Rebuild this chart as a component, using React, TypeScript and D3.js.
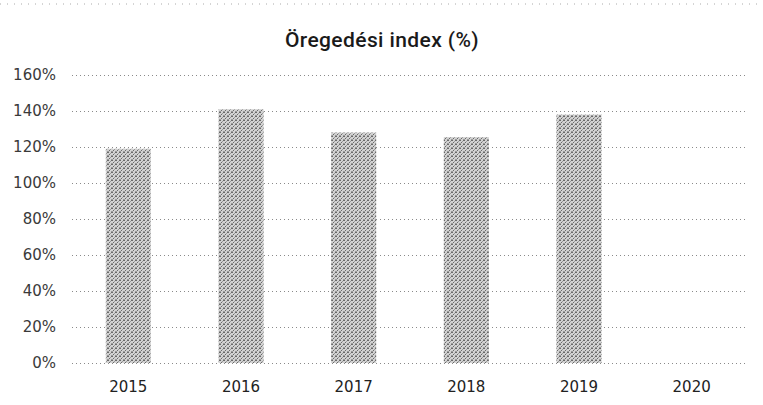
import * as d3 from "d3";
import React, {useEffect, useRef} from "react";

const years = ["2015", "2016", "2017", "2018", "2019", "2020"];
const agingIndex = [119, 141, 128, 125.5, 138, 0];
const yTicks = [0, 20, 40, 60, 80, 100, 120, 140, 160];

const width = 763;
const height = 405;

const App: React.FC = () => {
  const ref = useRef<SVGSVGElement | null>(null);

  useEffect(() => {
    document.body.style.margin = "0";
    const svg = d3.select(ref.current);
    svg.selectAll("*").remove();

    const margin = { top: 75, right: 15, bottom: 42, left: 72 };

    const xScale = d3
      .scaleBand<string>()
      .domain(years)
      .range([margin.left, width - margin.right])
      .paddingInner(0.6)
      .paddingOuter(0.3);

    const yScale = d3
      .scaleLinear()
      .domain([0, 160])
      .range([height - margin.bottom, margin.top]);

    // dither-like fill for the bars (scattered dark dots on light grey)
    const defs = svg.append("defs");
    const pat = defs
      .append("pattern")
      .attr("id", "dither")
      .attr("width", 4)
      .attr("height", 4)
      .attr("patternUnits", "userSpaceOnUse");
    pat.append("rect").attr("width", 4).attr("height", 4).attr("fill", "#d2d2d2");
    const dots = [[0, 0], [2, 1], [1, 2], [3, 3], [3, 0], [0, 3]];
    dots.forEach(([x, y], i) => {
      pat.append("rect")
        .attr("x", x).attr("y", y)
        .attr("width", 1).attr("height", 1)
        .attr("fill", i % 2 === 0 ? "#6a6a6a" : "#9a9a9a");
    });

    svg.append("rect").attr("width", width).attr("height", height).attr("fill", "#fff");

    // faint dotted border line at the top
    svg
      .append("line")
      .attr("x1", 0)
      .attr("x2", width)
      .attr("y1", 4)
      .attr("y2", 4)
      .attr("stroke", "#aaa")
      .attr("stroke-dasharray", "1,6");

    svg
      .append("text")
      .attr("x", 382)
      .attr("y", 47)
      .attr("text-anchor", "middle")
      .style("font-family", "Roboto, 'Noto Sans', sans-serif")
      .style("font-size", "21px")
      .style("font-weight", 500)
      .style("letter-spacing", "0.4px")
      .attr("fill", "#1a1a1a")
      .text("Öregedési index (%)");

    // gridlines
    svg
      .append("g")
      .selectAll("line")
      .data(yTicks)
      .enter()
      .append("line")
      .attr("x1", margin.left)
      .attr("x2", width - margin.right)
      .attr("y1", (d) => yScale(d) + 0.5)
      .attr("y2", (d) => yScale(d) + 0.5)
      .attr("stroke", "#8a8a8a")
      .attr("stroke-width", 1)
      .attr("stroke-dasharray", "1,3");

    // y labels
    svg
      .append("g")
      .selectAll("text")
      .data(yTicks)
      .enter()
      .append("text")
      .attr("x", 56)
      .attr("y", (d) => yScale(d))
      .attr("dy", "0.35em")
      .attr("text-anchor", "end")
      .style("font-family", "'DejaVu Sans', Verdana, sans-serif")
      .style("font-size", "15px")
      .attr("fill", "#3a3a3a")
      .text((d) => `${d}%`);

    // bars
    svg
      .append("g")
      .selectAll("rect")
      .data(agingIndex)
      .enter()
      .append("rect")
      .attr("x", (_, i) => xScale(years[i]) as number)
      .attr("y", (d) => yScale(d))
      .attr("width", xScale.bandwidth())
      .attr("height", (d) => yScale(0) - yScale(d))
      .attr("fill", "url(#dither)");

    // x labels
    svg
      .append("g")
      .selectAll("text")
      .data(years)
      .enter()
      .append("text")
      .attr("x", (d) => (xScale(d) as number) + xScale.bandwidth() / 2)
      .attr("y", 392)
      .attr("text-anchor", "middle")
      .style("font-family", "'DejaVu Sans', Verdana, sans-serif")
      .style("font-size", "15px")
      .attr("fill", "#222")
      .text((d) => d);

    return () => {
      svg.selectAll("*").remove();
    };
  }, []);

  return <svg ref={ref} width={width} height={height} style={{display: "block"}} />;
};

export default App;
